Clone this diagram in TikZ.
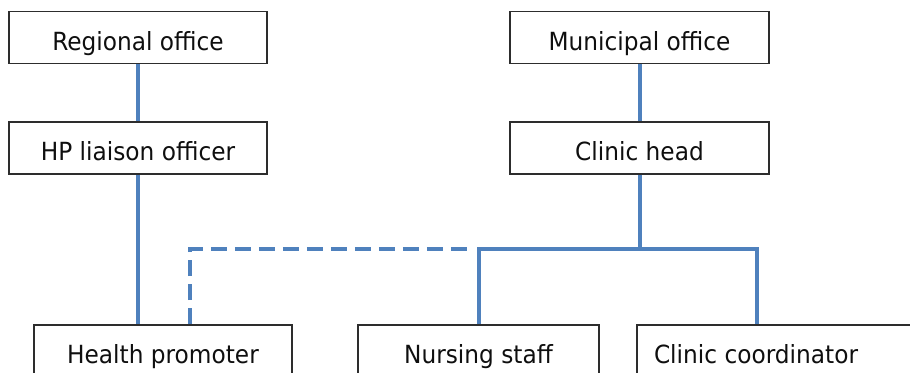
\documentclass[tikz,border=0pt]{standalone}
\usepackage{fontspec}
\setmainfont{DejaVu Sans}[FakeStretch=0.93]
\definecolor{lineblue}{RGB}{79,129,189}
\definecolor{boxline}{RGB}{45,45,45}
\definecolor{boxtext}{RGB}{15,15,15}
\begin{document}
\begin{tikzpicture}[x=0.5pt,y=-0.5pt,
  box/.style={draw=boxline, line width=0.9pt, minimum height=26pt, inner sep=0pt,
    text height=12.5pt, text depth=0pt, text=boxtext,
    font=\fontsize{12.5}{14}\selectfont},
  link/.style={lineblue, line width=1.6pt},
  dlink/.style={link, dash pattern=on 8pt off 4pt}]
\useasboundingbox (0,0) rectangle (910,372);
\clip (0,0) rectangle (910,372);
% boxes
\node[box, minimum width=129pt] (reg) at (138,37.5) {Regional office};
\node[box, minimum width=129pt] (hpl) at (138,148) {HP liaison officer};
\node[box, minimum width=129.5pt] (mun) at (639.5,37.5) {Municipal office};
\node[box, minimum width=129.5pt] (chd) at (639.5,148) {Clinic head};
\node[box, minimum width=129pt] (hpr) at (163,351) {Health promoter};
\node[box, minimum width=120.5pt] (nst) at (478.5,351) {Nursing staff};
\node[box, minimum width=151.5pt] (ccd) at (788.5,351) {Clinic coordinator\hspace*{32.5pt}};
% coordinates
\coordinate (j) at (640,249);
\coordinate (jl) at (479,249);
\coordinate (jr) at (757,249);
\coordinate (dc) at (190,249);
\coordinate (de) at (472,249);
% connectors
\draw[link] (reg.south) -- (hpl.north);
\draw[link] (mun.south -| 640,0) -- (chd.north -| 640,0);
\draw[link] (hpl.south) -- (hpl.south |- hpr.north);
\draw[link] (chd.south -| j) -- (j);
\draw[link] (nst.north -| jl) -- (jl) -- (jr) -- (ccd.north -| jr);
\draw[dlink] (hpr.north -| dc) -- (dc) -- (de);
\end{tikzpicture}
\end{document}
